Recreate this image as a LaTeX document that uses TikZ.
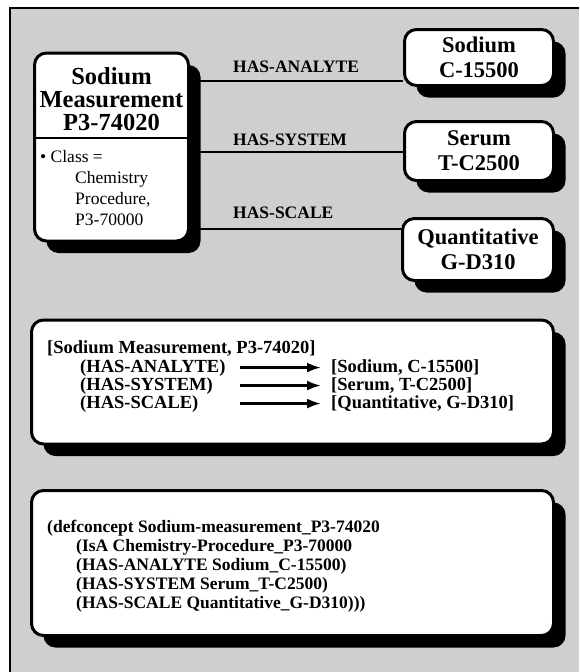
\documentclass[tikz,border=0pt]{standalone}
\usepackage{fontspec}
\setmainfont{Liberation Serif}
\usetikzlibrary{shadows,arrows.meta}
\definecolor{bggray}{gray}{0.81}
\begin{document}
\begin{tikzpicture}[x=1pt,y=-1pt,
  shbox/.style={draw=black, line width=3pt, fill=white, rounded corners=12pt, inner sep=0pt,
     drop shadow={shadow xshift=12pt, shadow yshift=-12pt, fill=black, opacity=1}},
  bigtxt/.style={font=\bfseries\fontsize{22.5}{25}\selectfont, align=center},
  maintxt/.style={font=\bfseries\fontsize{24.5}{23}\selectfont, align=center, inner sep=0pt},
  classtxt/.style={font=\fontsize{17.5}{21}\selectfont, align=left, inner sep=0pt},
  lbl/.style={font=\bfseries\fontsize{17.5}{20}\selectfont, inner sep=0pt},
  txt/.style={font=\bfseries\fontsize{18.5}{19}\selectfont, inner sep=0pt},
  dtxt/.style={font=\bfseries\fontsize{17.5}{19}\selectfont, inner sep=0pt},
  conn/.style={line width=2pt},
  arr/.style={line width=2.5pt, -{Latex[length=14pt,width=10pt]}, shorten >=10pt}
]
\useasboundingbox (0,0) rectangle (579,672);
\fill[bggray] (10,8) rectangle (579,672);
\draw[line width=2pt] (10,672) -- (10,8) -- (579,8);

% main concept box
\node[shbox, minimum width=154pt, minimum height=188pt] (main) at (111.5,147) {};
\coordinate (div) at (0,138);
\draw[line width=2.5pt] (main.west |- div) -- (main.east |- div);
\node[maintxt] (mtitle) at (111.5,99) {Sodium\\Measurement\\P3-74020};
\node[classtxt, anchor=north west] (mclass) at (40,150)
  {\textbullet\ Class =\\\hspace*{35pt}Chemistry\\\hspace*{35pt}Procedure,\\\hspace*{35pt}P3-70000};

% right boxes
\node[shbox, bigtxt, minimum width=149pt, minimum height=56pt] (sod) at (479,57.5) {Sodium\\C-15500};
\node[shbox, bigtxt, minimum width=149pt, minimum height=59pt] (ser) at (479,151) {Serum\\T-C2500};
\node[shbox, bigtxt, minimum width=151pt, minimum height=62pt] (qua) at (478,249.5) {Quantitative\\G-D310};

% connectors
\coordinate (y1) at (0,81);
\coordinate (y2) at (0,152);
\coordinate (y3) at (0,229);
\draw[conn] (main.east |- y1) -- (sod.west |- y1);
\draw[conn] (main.east |- y2) -- (ser.west |- y2);
\draw[conn] (main.east |- y3) -- (qua.west |- y3);
\node[lbl, anchor=base west] (l1) at (233,72) {HAS-ANALYTE};
\node[lbl, anchor=base west] (l2) at (233,145) {HAS-SYSTEM};
\node[lbl, anchor=base west] (l3) at (233,218) {HAS-SCALE};

% box 2
\node[shbox, minimum width=522pt, minimum height=124pt] (b2) at (292.5,382) {};
\node[txt, anchor=base west] (t2) at (47,353) {[Sodium Measurement, P3-74020]};
\node[txt, anchor=base west, text width=160pt, align=left] (r1) at (80,372) {(HAS-ANALYTE)};
\node[txt, anchor=base west, text width=160pt, align=left] (r2) at (80,390) {(HAS-SYSTEM)};
\node[txt, anchor=base west, text width=160pt, align=left] (r3) at (80,408) {(HAS-SCALE)};
\node[txt, anchor=base west] (q1) at (331,372) {[Sodium, C-15500]};
\node[txt, anchor=base west] (q2) at (331,390) {[Serum, T-C2500]};
\node[txt, anchor=base west] (q3) at (331,408) {[Quantitative, G-D310]};
\draw[arr] (r1.east) -- (r1.east -| q1.west);
\draw[arr] (r2.east) -- (r2.east -| q2.west);
\draw[arr] (r3.east) -- (r3.east -| q3.west);

% box 3
\node[shbox, minimum width=522pt, minimum height=145pt] (b3) at (292.5,563) {};
\node[dtxt, anchor=base west] (d1) at (47,532) {(defconcept Sodium-measurement\_P3-74020};
\node[dtxt, anchor=base west] (d2) at (76,551) {(IsA Chemistry-Procedure\_P3-70000};
\node[dtxt, anchor=base west] (d3) at (76,570) {(HAS-ANALYTE Sodium\_C-15500)};
\node[dtxt, anchor=base west] (d4) at (76,589) {(HAS-SYSTEM Serum\_T-C2500)};
\node[dtxt, anchor=base west] (d5) at (76,608) {(HAS-SCALE Quantitative\_G-D310)))};
\end{tikzpicture}
\end{document}
